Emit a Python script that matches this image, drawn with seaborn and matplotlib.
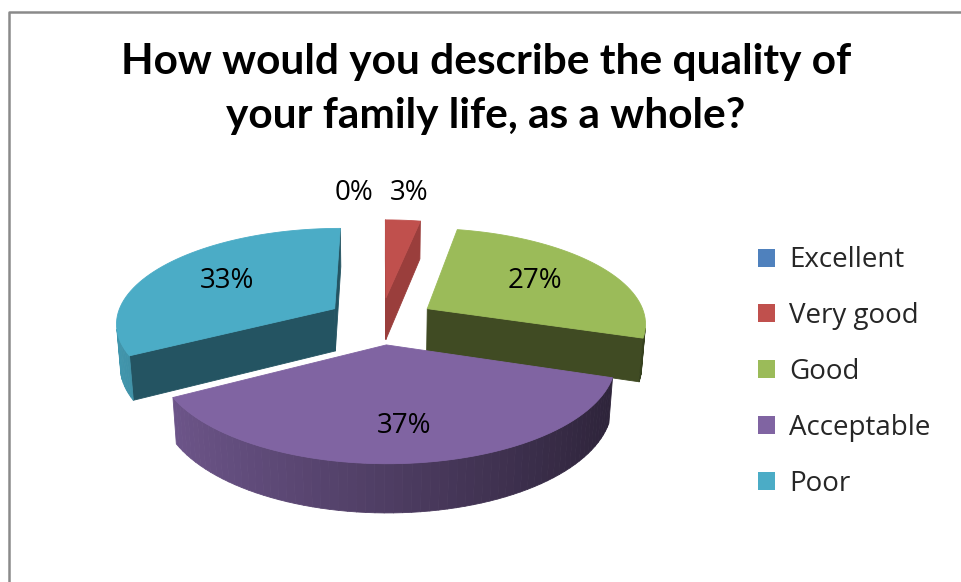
import numpy as np
import matplotlib
matplotlib.use("Agg")
import matplotlib.pyplot as plt
from matplotlib.patches import Polygon, Patch
from matplotlib.lines import Line2D
import seaborn as sns

# ---- data -------------------------------------------------------------
categories = ["Excellent", "Very good", "Good", "Acceptable", "Poor"]
shares = [0, 3, 27, 37, 33]                     # percent of respondents
title_lines = ["How would you describe the quality of",
               "your family life, as a whole?"]

# ---- style ------------------------------------------------------------
top_colors = ["#4F81BD", "#C0504D", "#9BBB59", "#8064A2", "#4BACC6"]
cut_colors = ["#2C4A6E", "#9A3E3C", "#404B23", "#4A3A5E", "#245462"]
label_radius = [1.42, 1.42, 0.62, 0.72, 0.62]

sns.set_theme(style="white")
plt.rcParams["font.family"] = ["Open Sans", "DejaVu Sans"]

W, H = 962, 582
fig = plt.figure(figsize=(W / 100, H / 100), dpi=100)
ax = fig.add_axes([0, 0, 1, 1])
ax.set_xlim(0, W)
ax.set_ylim(H, 0)
ax.axis("off")

# chart area border
ax.add_line(Line2D([9, 9, W + 5], [H + 5, 12, 12], color="#8A8A8A", lw=1.8))

# ---- 3-D pie geometry -------------------------------------------------
CX, CY = 381.0, 320.5       # screen position of the pie centre
SCALE = 219.0               # pixels per pie radius
ELEV = np.deg2rad(25.6)     # viewing elevation
DIST = 6.44                 # camera distance (perspective)
DEPTH = 0.22                # pie thickness
EXPLODE = 0.25              # slice explosion
SIN_E, COS_E = np.sin(ELEV), np.cos(ELEV)
CAM = np.array([0.0, -DIST * COS_E, DIST * SIN_E])


def project(x, y, z):
    x, y, z = np.broadcast_arrays(np.asarray(x, float), np.asarray(y, float),
                                  np.asarray(z, float))
    w = 1 + (y * COS_E - z * SIN_E) / DIST
    return CX + SCALE * x / w, CY - SCALE * (y * SIN_E + z * COS_E) / w


def facing(normal, point):
    return np.dot(normal, CAM - point) > 0


def shade(color, f):
    rgb = np.array(matplotlib.colors.to_rgb(color))
    return tuple(np.clip(rgb * f, 0, 1))


def poly(xs, ys, color, z):
    ax.add_patch(Polygon(np.column_stack([xs, ys]), closed=True,
                         facecolor=color, edgecolor=color, lw=0.6,
                         joinstyle="round", zorder=z))


total = float(sum(shares))
slices = []
start = 0.0
for i, v in enumerate(shares):
    a0 = start
    a1 = start + 360.0 * v / total
    start = a1
    mid = np.deg2rad((a0 + a1) / 2)
    off = EXPLODE * np.array([np.sin(mid), np.cos(mid)])
    slices.append(dict(i=i, v=v, a0=np.deg2rad(a0), a1=np.deg2rad(a1),
                       mid=mid, off=off))

# draw far slices first
order = sorted([s for s in slices if s["v"] > 0], key=lambda s: -s["off"][1])
zo = 2
for s in order:
    i, ox, oy = s["i"], s["off"][0], s["off"][1]
    n = max(4, int(np.degrees(s["a1"] - s["a0"]) / 2))
    t = np.linspace(s["a0"], s["a1"], n + 1)
    rx, ry = ox + np.sin(t), oy + np.cos(t)

    # radial cut faces
    for a, sign in ((s["a0"], -1), (s["a1"], 1)):
        nrm = np.array([sign * np.cos(a), -sign * np.sin(a), 0.0])
        px, py = ox + np.sin(a), oy + np.cos(a)
        centre = np.array([(ox + px) / 2, (oy + py) / 2, -DEPTH / 2])
        if facing(nrm, centre):
            xs, ys = project([ox, px, px, ox], [oy, py, py, oy],
                             [0, 0, -DEPTH, -DEPTH])
            poly(xs, ys, cut_colors[i], zo)

    # outer curved wall, shaded by its orientation
    for j in range(n):
        tm = (t[j] + t[j + 1]) / 2
        nrm = np.array([np.sin(tm), np.cos(tm), 0.0])
        centre = np.array([ox + np.sin(tm), oy + np.cos(tm), -DEPTH / 2])
        if not facing(nrm, centre):
            continue
        f = 0.61 - 0.27 * np.sin(tm)
        xs, ys = project([rx[j], rx[j + 1], rx[j + 1], rx[j]],
                         [ry[j], ry[j + 1], ry[j + 1], ry[j]],
                         [0, 0, -DEPTH, -DEPTH])
        poly(xs, ys, shade(top_colors[i], f), zo)

    # top face
    xs, ys = project(np.r_[ox, rx], np.r_[oy, ry], 0.0)
    poly(xs, ys, top_colors[i], zo + 1)
    zo += 2

# ---- percentage labels ------------------------------------------------
label_pos = []
for s in slices:
    r = EXPLODE + label_radius[s["i"]]
    lx, ly = project(r * np.sin(s["mid"]), r * np.cos(s["mid"]), 0.0)
    label_pos.append([float(lx), float(ly)])

# keep the outside labels of neighbouring thin slices apart
MIN_GAP = 55
outside = [k for k, r in enumerate(label_radius) if r > 1]
for a, b in zip(outside[:-1], outside[1:]):
    if abs(label_pos[b][0] - label_pos[a][0]) < MIN_GAP:
        label_pos[a][0] = label_pos[b][0] - MIN_GAP
        label_pos[a][1] = label_pos[b][1]

for s, (lx, ly) in zip(slices, label_pos):
    ax.text(lx, ly, f"{s['v']}%", ha="center", va="center", fontsize=20,
            color="black", zorder=50)

# ---- legend -----------------------------------------------------------
handles = [Patch(facecolor=c, edgecolor="none", label=name)
           for name, c in zip(categories, top_colors)]
ax.legend(handles=handles, loc="center left", bbox_to_anchor=(758, 372),
          bbox_transform=ax.transData, frameon=False, fontsize=20,
          handlelength=0.62, handleheight=0.62, handletextpad=0.5,
          labelspacing=1.0, borderpad=0, borderaxespad=0)

# ---- title ------------------------------------------------------------
for line, y in zip(title_lines, (74, 128)):
    ax.text(486, y, line, ha="center", va="baseline", fontsize=30.5,
            fontweight="bold", family=["Lato", "DejaVu Sans"], color="black")

fig.savefig("out.png", dpi=100)
